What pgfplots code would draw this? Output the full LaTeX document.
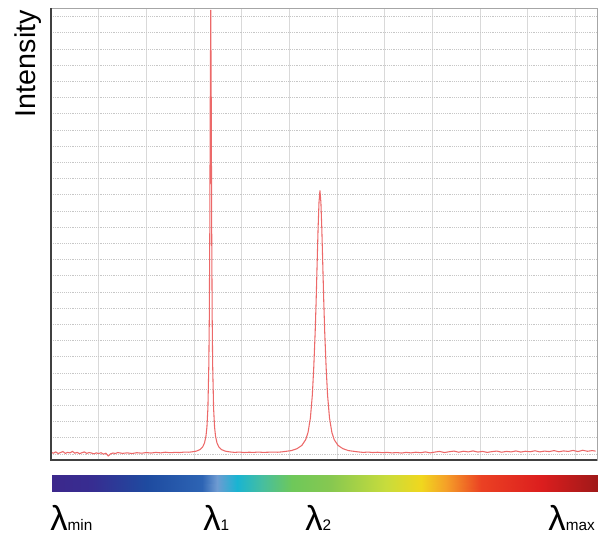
\documentclass[border=0pt]{standalone}
\usepackage{fontspec}
\setmainfont{Liberation Sans}
\usepackage{pgfplots}
\pgfplotsset{compat=1.18}

% spectrum colour bar, stops in pixel offsets along the bar
\pgfplotsset{colormap={spec}{
  rgb255(0pt)=(60,40,140); rgb255(40pt)=(55,45,145); rgb255(95pt)=(30,75,160);
  rgb255(150pt)=(45,100,180); rgb255(165pt)=(110,155,210); rgb255(185pt)=(25,180,210);
  rgb255(210pt)=(70,190,160); rgb255(240pt)=(110,200,90); rgb255(280pt)=(135,200,80);
  rgb255(335pt)=(200,220,60); rgb255(370pt)=(240,215,30); rgb255(395pt)=(245,160,40);
  rgb255(430pt)=(235,65,35); rgb255(490pt)=(220,30,30); rgb255(546pt)=(160,25,25)}}

\definecolor{specred}{RGB}{236,105,105}

\begin{document}
\begin{tikzpicture}
\useasboundingbox (-38.25pt,-57pt) rectangle (414pt,345pt);

\begin{axis}[
    at={(0,0)}, anchor=south west,
    scale only axis,
    width=409.5pt, height=339pt,
    xmin=0, xmax=11.45,
    ymin=0, ymax=27.9,
    xtick={0,...,11},
    ytick={0.37,1.37,...,27.37},
    xticklabel=\empty, yticklabel=\empty,
    tick style={draw=none},
    xmajorgrids, ymajorgrids,
    x grid style={black!15, line width=0.6pt},
    y grid style={black!22, densely dotted, line width=0.6pt},
    axis line style={black!35, line width=0.6pt},
    clip=false,
]

\addplot[specred, line width=0.8pt, no marks] table {
x y
0.00 0.48
0.05 0.42
0.10 0.50
0.15 0.40
0.20 0.46
0.25 0.52
0.30 0.41
0.35 0.47
0.40 0.44
0.45 0.53
0.50 0.42
0.55 0.47
0.60 0.39
0.65 0.45
0.70 0.50
0.75 0.41
0.80 0.46
0.85 0.43
0.90 0.38
0.95 0.44
1.00 0.40
1.05 0.45
1.10 0.36
1.15 0.42
1.20 0.25
1.25 0.38
1.30 0.43
1.35 0.40
1.40 0.46
1.50 0.41
1.60 0.44
1.70 0.40
1.80 0.45
1.90 0.42
2.00 0.46
2.10 0.43
2.20 0.47
2.30 0.44
2.40 0.48
2.50 0.45
2.60 0.47
2.70 0.46
2.80 0.49
2.88 0.48
2.95 0.50
3.05 0.55
3.13 0.65
3.18 0.80
3.22 1.06
3.25 1.48
3.27 2.04
3.29 3.17
3.31 5.90
3.32 8.85
3.33 14.11
3.34 22.31
3.35 27.78
3.36 22.31
3.37 14.11
3.38 8.85
3.39 5.90
3.41 3.17
3.43 2.04
3.45 1.48
3.48 1.06
3.52 0.80
3.57 0.65
3.65 0.55
3.75 0.50
3.85 0.47
3.95 0.49
4.05 0.46
4.15 0.48
4.25 0.47
4.35 0.49
4.45 0.47
4.55 0.48
4.65 0.49
4.75 0.48
4.84 0.50
5.04 0.58
5.16 0.70
5.26 0.90
5.34 1.25
5.39 1.70
5.44 2.60
5.48 4.00
5.51 5.70
5.54 7.90
5.56 9.80
5.58 12.00
5.60 14.20
5.62 15.90
5.64 16.64
5.66 15.90
5.68 14.20
5.70 12.00
5.72 9.80
5.74 7.90
5.77 5.70
5.80 4.00
5.84 2.60
5.89 1.70
5.94 1.25
6.02 0.90
6.12 0.70
6.24 0.58
6.44 0.50
6.55 0.47
6.65 0.49
6.75 0.46
6.85 0.48
6.95 0.45
7.05 0.47
7.15 0.44
7.25 0.46
7.35 0.43
7.45 0.47
7.55 0.44
7.65 0.48
7.75 0.45
7.85 0.50
7.95 0.44
8.05 0.49
8.15 0.53
8.25 0.46
8.35 0.51
8.45 0.55
8.55 0.48
8.65 0.54
8.75 0.50
8.85 0.56
8.95 0.49
9.05 0.53
9.15 0.47
9.25 0.52
9.35 0.55
9.45 0.48
9.55 0.53
9.65 0.50
9.75 0.56
9.85 0.49
9.95 0.54
10.05 0.51
10.15 0.57
10.25 0.50
10.35 0.55
10.45 0.52
10.55 0.58
10.65 0.51
10.75 0.56
10.85 0.53
10.95 0.59
11.05 0.52
11.15 0.60
11.25 0.54
11.35 0.58
11.42 0.55
};

\draw[black!75, line width=1.4pt] (rel axis cs:0,1) -- (rel axis cs:0,0) -- (rel axis cs:1,0);
\end{axis}

% colour bar
\begin{axis}[
    at={(0.75pt,-23.25pt)}, anchor=south west,
    scale only axis,
    width=408.75pt, height=12pt,
    hide axis,
    xmin=0, xmax=546, ymin=0, ymax=1,
    colormap name=spec,
    point meta min=0, point meta max=546,
]
\addplot[surf, shader=interp, point meta=x, mesh/rows=2] table {
x y
0 0
40 0
95 0
150 0
165 0
185 0
210 0
240 0
280 0
335 0
370 0
395 0
430 0
490 0
546 0
0 1
40 1
95 1
150 1
165 1
185 1
210 1
240 1
280 1
335 1
370 1
395 1
430 1
490 1
546 1
};
\end{axis}

\node[rotate=90, anchor=east, inner sep=0pt, font=\fontsize{21.5}{24}\selectfont] at (-17.25pt,337.5pt) {Intensity};

\node[anchor=base west, inner sep=0pt, font=\fontsize{26}{28}\selectfont] at (-0.75pt,-52.5pt) {λ{\fontsize{11.5}{13}\selectfont min}};
\node[anchor=base west, inner sep=0pt, font=\fontsize{26}{28}\selectfont] at (114pt,-52.5pt) {λ{\fontsize{11.5}{13}\selectfont 1}};
\node[anchor=base west, inner sep=0pt, font=\fontsize{26}{28}\selectfont] at (190.5pt,-52.5pt) {λ{\fontsize{11.5}{13}\selectfont 2}};
\node[anchor=base east, inner sep=0pt, font=\fontsize{26}{28}\selectfont] at (408pt,-52.5pt) {λ{\fontsize{11.5}{13}\selectfont max}};
\end{tikzpicture}
\end{document}
